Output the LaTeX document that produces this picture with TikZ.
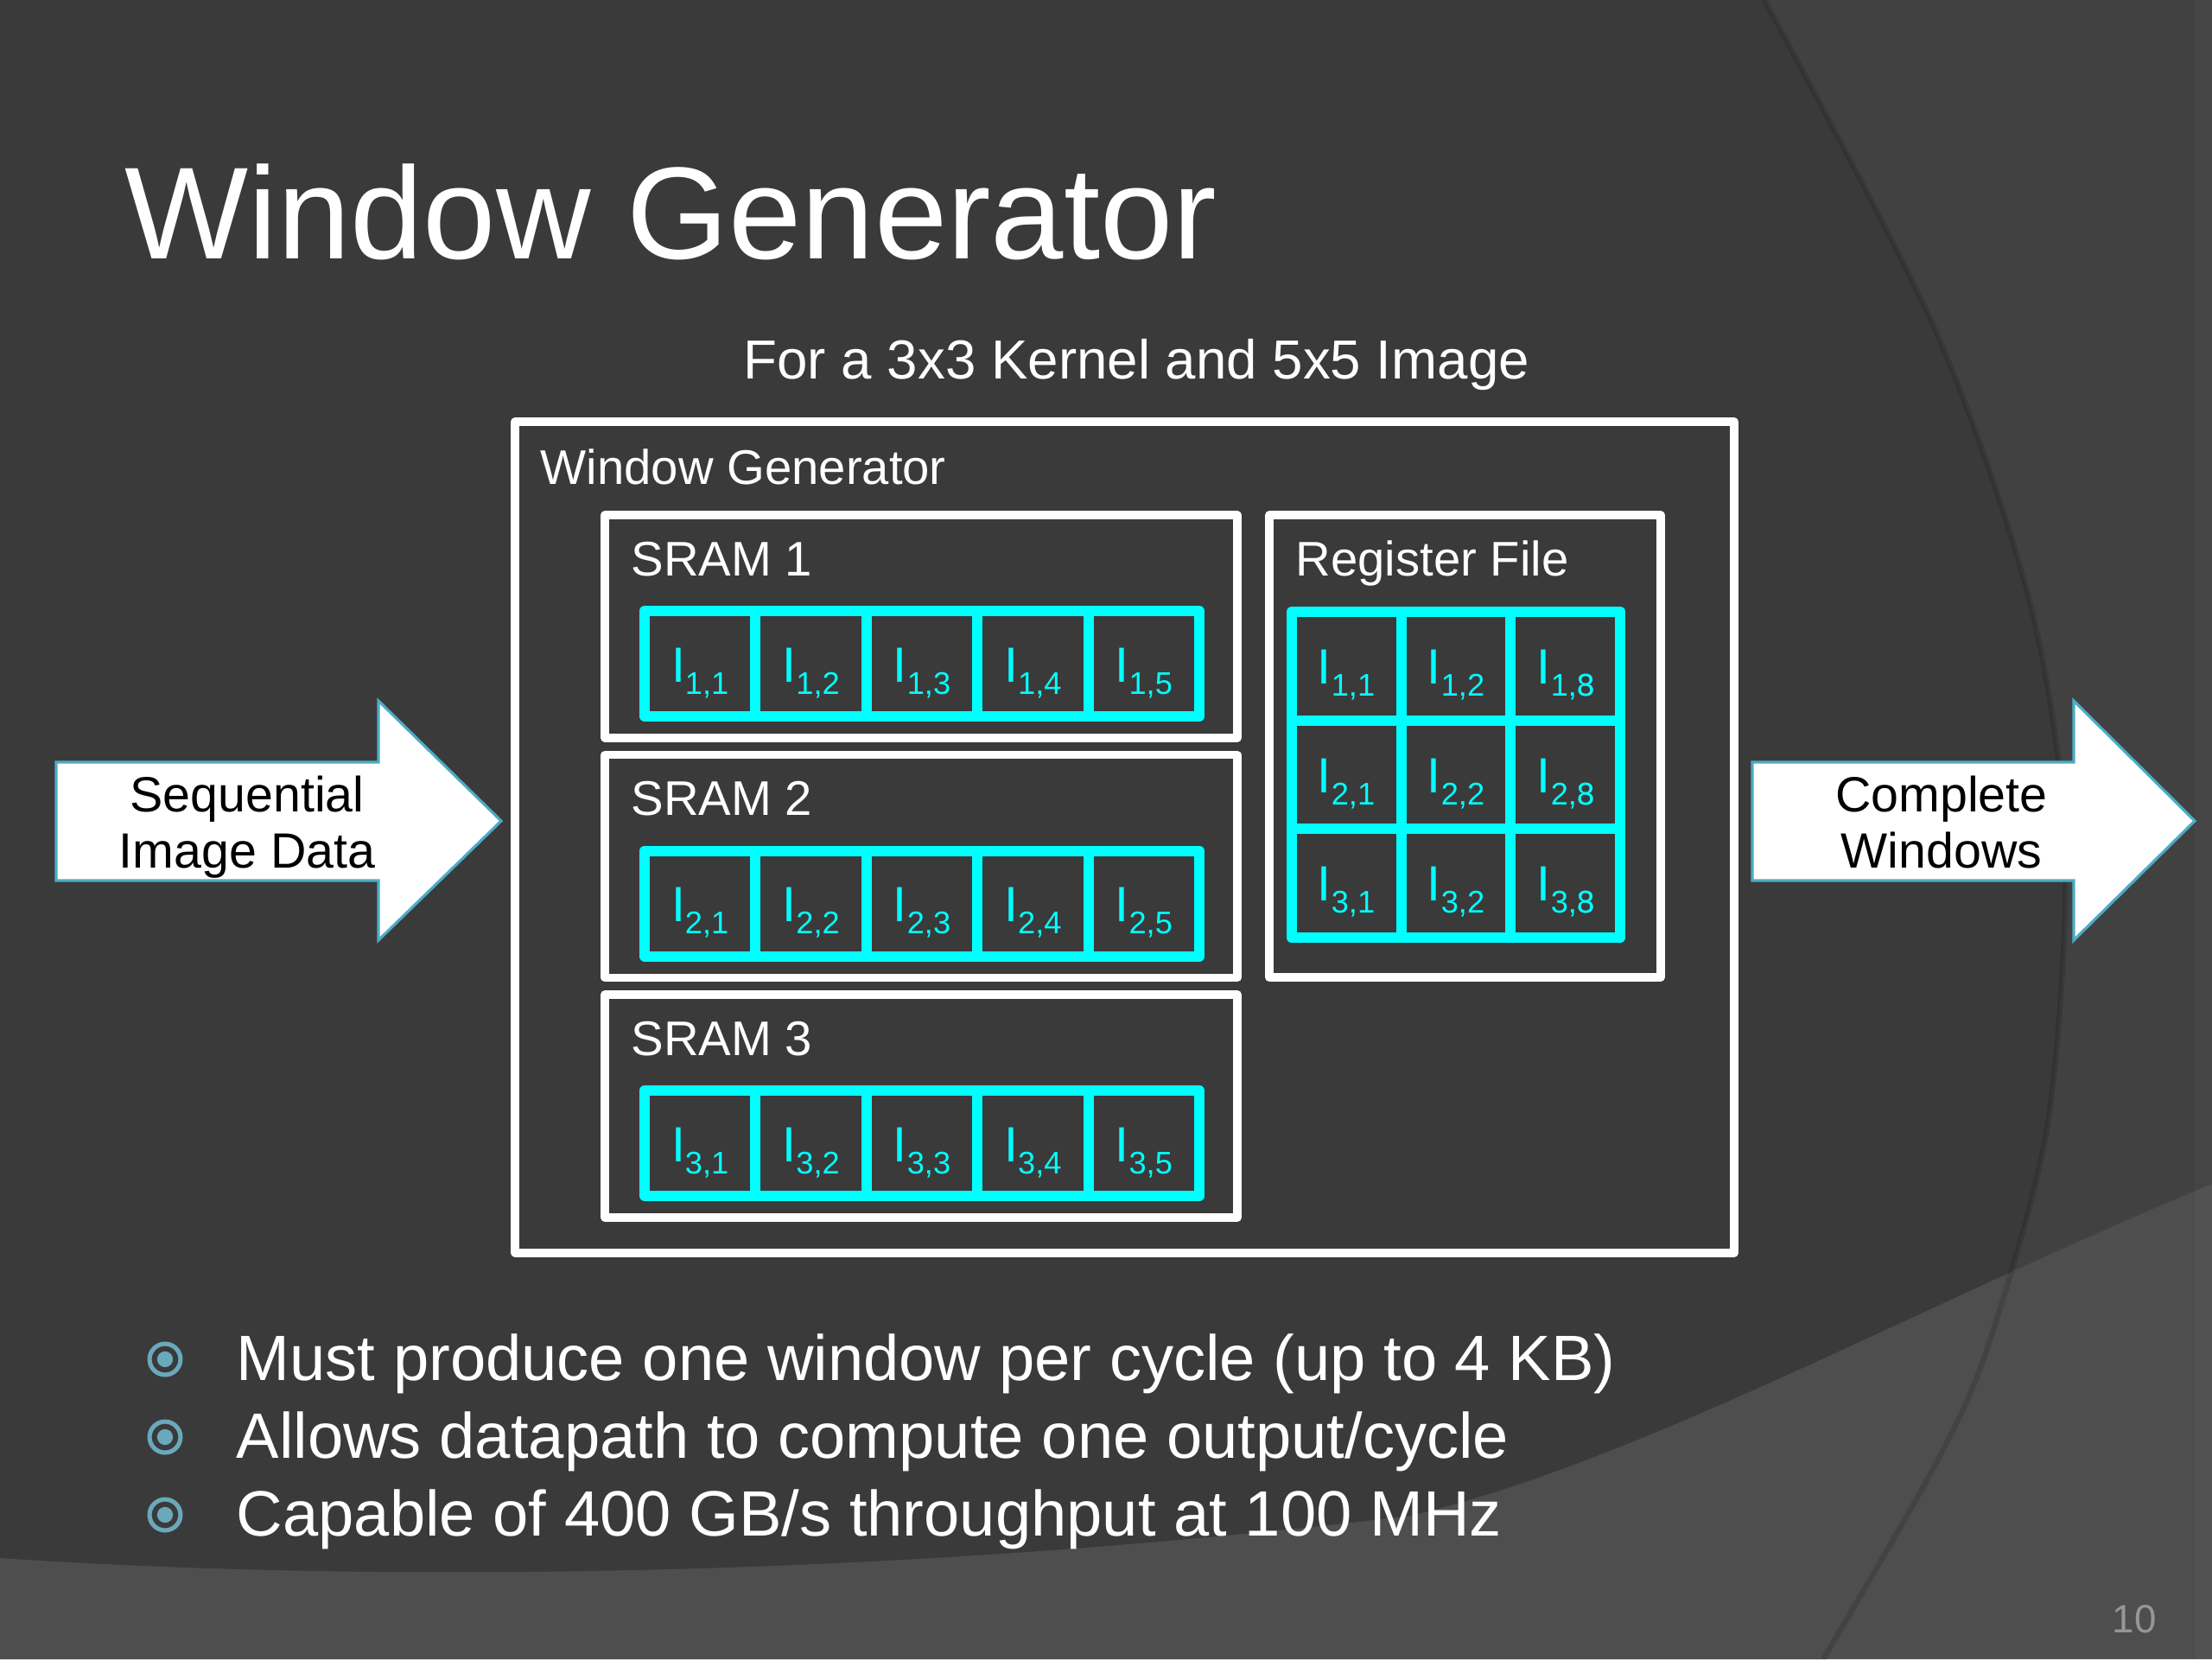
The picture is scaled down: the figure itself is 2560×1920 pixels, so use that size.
\documentclass[tikz,border=0pt]{standalone}
\usepackage{fontspec}
\setmainfont{Liberation Sans}
\definecolor{bgdark}{RGB}{58,58,58}
\definecolor{bgmid}{RGB}{65,65,65}
\definecolor{bgband}{RGB}{78,78,78}
\definecolor{cellcyan}{RGB}{0,255,255}
\definecolor{arrowedge}{RGB}{75,172,198}
\definecolor{bulletc}{RGB}{106,168,188}
\definecolor{pagenum}{RGB}{150,150,150}
\newcommand{\cellI}[2]{I\raisebox{-4pt}{\fontsize{10.3}{12}\selectfont #1,#2}}
\newcommand{\ovr}{\makebox[0pt][l]{3}8}
\begin{document}
\begin{tikzpicture}[x=0.01cm,y=-0.01cm,
  wbox/.style={draw=white, line width=2.6pt, line join=round},
  ccell/.style={draw=cellcyan, line width=3.4pt, line join=round},
  lbl/.style={text=white, inner sep=0, anchor=base west, font=\fontsize{16}{19}\selectfont},
  ctext/.style={text=cellcyan, inner sep=0, anchor=base, font=\fontsize{16.3}{19}\selectfont},
  arrowshape/.style={fill=white, draw=arrowedge, line width=0.9pt, line join=miter},
  atext/.style={text=black, inner sep=0, anchor=base, font=\fontsize{16.3}{19}\selectfont},
  btext/.style={text=white, inner sep=0, anchor=base west, font=\fontsize{21.1}{25}\selectfont},
  bring/.style={draw=bulletc, line width=1.45pt},
  bdot/.style={fill=bulletc}
]
\useasboundingbox (0,0) rectangle (2560,1920);
% background
\fill[bgmid] (0,0) rectangle (2560,1920);
\fill[bgdark] (0,0) -- plot[smooth] coordinates {(2042,0) (2239,380) (2350,700) (2390,980) (2370,1300) (2300,1560) (2237,1700) (2110,1920)} -- (0,1920) -- cycle;
\fill[bgband] (0,1803) .. controls (400,1830) and (1000,1830) .. (1633,1754) .. controls (1900,1690) and (2200,1520) .. (2560,1370) -- (2560,1920) -- (0,1920) -- cycle;
\draw[black, opacity=0.13, line width=1.8pt] plot[smooth] coordinates {(2042,0) (2239,380) (2350,700) (2390,980) (2370,1300) (2300,1560) (2237,1700) (2110,1920)};
\fill[white, opacity=0.025] (2540,0) rectangle (2560,1920);

% title
\node[text=white, inner sep=0, anchor=base west, font=\fontsize{43.1}{50}\selectfont] (title) at (144,299) {Window Generator};
\node[text=white, inner sep=0, anchor=base west, font=\fontsize{18.1}{22}\selectfont] (subtitle) at (860,438) {For a 3x3 Kernel and 5x5 Image};

% outer box
\draw[wbox] (596,488) rectangle (2007,1450);
\node[lbl] (wglabel) at (625,560) {Window Generator};

% SRAM boxes
\foreach \k/\yb/\yl in {1/596/666, 2/873.5/943.5, 3/1151/1221} {
  \draw[wbox] (700,\yb) rectangle (1432,\yb+258);
  \node[lbl] (sram\k) at (730,\yl) {SRAM \k};
}
\foreach \k in {1,2,3} {
  \pgfmathsetmacro\yT{707+277.5*(\k-1)}
  \foreach \j in {1,...,5} {
    \pgfmathsetmacro\xL{746+128.4*(\j-1)}
    \draw[ccell] (\xL,\yT) rectangle ++(128.4,122);
    \node[ctext] (s\k c\j) at (\xL+64.2,\yT+82) {\cellI{\k}{\j}};
  }
}

% register file
\draw[wbox] (1469,596) rectangle (1922,1131);
\node[lbl] (rflabel) at (1499,666) {Register File};
\foreach \r in {1,2,3} {
  \foreach \c in {1,2,3} {
    \pgfmathsetmacro\xL{1495+126.7*(\c-1)}
    \pgfmathsetmacro\yT{708+125.7*(\r-1)}
    \draw[ccell] (\xL,\yT) rectangle ++(126.7,125.7);
  }
}
\foreach \r in {1,2,3} {
  \pgfmathsetmacro\yT{708+125.7*(\r-1)}
  \node[ctext] (r\r c1) at (1558,\yT+83.4) {\cellI{\r}{1}};
  \node[ctext] (r\r c2) at (1685,\yT+83.4) {\cellI{\r}{2}};
  \node[ctext] (r\r c3) at (1812,\yT+83.4) {\cellI{\r}{\ovr}};
}

% arrows
\draw[arrowshape] (65,882) -- (438,882) -- (438,811) -- (580,950) -- (438,1088) -- (438,1019) -- (65,1019) -- cycle;
\node[atext] (inA) at (286,939) {Sequential};
\node[atext] (inB) at (286,1004) {Image Data};
\draw[arrowshape] (2028,882) -- (2400,882) -- (2400,811) -- (2540,950) -- (2400,1088) -- (2400,1019) -- (2028,1019) -- cycle;
\node[atext] (outA) at (2247,939) {Complete};
\node[atext] (outB) at (2247,1004) {Windows};

% bullets
\foreach \i/\t in {0/{Must produce one window per cycle (up to 4 KB)}, 1/{Allows datapath to compute one output/cycle}, 2/{Capable of 400 GB/s throughput at 100 MHz}} {
  \draw[bring] (191,1573+90*\i) circle (5.1pt);
  \fill[bdot] (191,1573+90*\i) circle (2.6pt);
  \node[btext] (b\i) at (273,1597+90*\i) {\t};
}

% page number
\node[text=pagenum, inner sep=0, anchor=base west, font=\fontsize{13}{15}\selectfont] (pnum) at (2444,1889) {10};
\end{tikzpicture}
\end{document}
